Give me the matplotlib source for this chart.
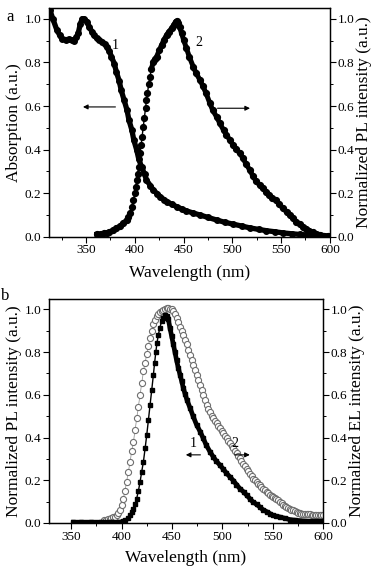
import matplotlib
matplotlib.use("Agg")
import matplotlib.pyplot as plt
from matplotlib.ticker import MultipleLocator, FormatStrFormatter

plt.rcParams['font.family'] = ['Liberation Serif', 'DejaVu Serif']

# ---- panel a: absorption (1) and PL (2) ----
abs_wl = [313, 316, 320, 323, 325, 329, 333, 336, 338, 340, 342, 344, 346, 348, 351, 353, 356, 358, 361, 363, 366,
          369, 371, 374, 376, 379, 381, 384, 386, 389, 392, 394, 397, 399, 402, 404, 407, 410, 412, 416, 419, 423,
          426, 430, 433, 438, 443, 448, 453, 460, 467, 475, 484, 492, 501, 510, 518, 527, 535, 544, 552, 561, 569,
          578, 586, 593, 598]
abs_val = [1.04, 1.00, 0.95, 0.925, 0.91, 0.905, 0.906, 0.903, 0.90, 0.915, 0.934, 0.975, 1.0, 1.0, 0.988, 0.965,
           0.942, 0.925, 0.911, 0.905, 0.896, 0.885, 0.873, 0.852, 0.827, 0.795, 0.758, 0.716, 0.674, 0.628, 0.582,
           0.536, 0.49, 0.444, 0.398, 0.358, 0.32, 0.288, 0.26, 0.235, 0.214, 0.198, 0.184, 0.171, 0.161, 0.149,
           0.138, 0.128, 0.119, 0.109, 0.10, 0.089, 0.077, 0.067, 0.058, 0.049, 0.041, 0.034, 0.028, 0.023, 0.018,
           0.014, 0.011, 0.008, 0.005, 0.003, 0.002]

pl_wl = [361, 365, 368, 371, 374, 378, 381, 385, 388, 391.7, 393.5, 395, 396.7, 398.5, 400, 401, 402, 403, 404,
         405.3, 406.5, 407.5, 408.7, 409.8, 411, 412, 413, 414.3, 415.6, 417, 419, 420.7, 422.4, 425, 427.5, 430,
         432.6, 435, 437.8, 440, 441.9, 443, 444.6, 446, 448, 450, 453, 456, 460, 463, 466.8, 470, 473, 477, 480,
         484, 487.3, 491, 494, 497.5, 501, 504, 507.8, 511, 514, 518, 521, 524, 528, 531, 535, 538, 541, 545, 548,
         552, 555.6, 559, 562, 565.8, 569, 572, 576, 579, 583, 586, 590, 594, 598]
pl_val = [0.012, 0.014, 0.016, 0.018, 0.023, 0.03, 0.039, 0.05, 0.062, 0.077, 0.09, 0.107, 0.135, 0.168, 0.2, 0.228,
          0.26, 0.29, 0.32, 0.383, 0.42, 0.46, 0.505, 0.545, 0.59, 0.628, 0.66, 0.70, 0.735, 0.77, 0.804, 0.815, 0.827,
          0.855, 0.88, 0.905, 0.926, 0.942, 0.957, 0.973, 0.988, 0.99, 0.98, 0.962, 0.934, 0.905, 0.865, 0.825, 0.78,
          0.75, 0.72, 0.69, 0.66, 0.613, 0.58, 0.55, 0.52, 0.49, 0.468, 0.444, 0.42, 0.402, 0.383, 0.36, 0.335, 0.306,
          0.28, 0.258, 0.237, 0.222, 0.207, 0.19, 0.178, 0.168, 0.15, 0.13, 0.115, 0.1, 0.085, 0.069, 0.057, 0.047,
          0.038, 0.028, 0.02, 0.015, 0.01, 0.006, 0.003]

# ---- panel b: PL (1, filled squares) and EL (2, open circles) ----
pl2_wl = [352, 360, 370, 380, 390, 398.5, 401, 403.5, 406, 408.5, 410, 411.8, 413.5, 415, 416.7, 418.4, 420,
          421.7, 423.4, 425, 426.6, 428.3, 430, 431.6, 432.8, 434, 435.2, 436.5, 438, 439.8, 441.4, 443, 444.8,
          446.4, 448, 449.7, 451.4, 453, 454.6, 456.3, 458, 459.6, 461.3, 463, 465, 468, 471, 474.5, 478, 481, 484,
          487.7, 491, 494, 497.6, 501, 504, 507.5, 511, 514, 517.4, 521, 524, 527.3, 530, 534, 537.2, 540, 544,
          547.2, 550, 553, 557, 562, 567, 572, 577, 582, 587, 593, 600]
pl2_val = [0.005, 0.005, 0.005, 0.005, 0.005, 0.005, 0.008, 0.012, 0.022, 0.036, 0.05, 0.067, 0.09, 0.114, 0.15,
           0.193, 0.24, 0.287, 0.35, 0.412, 0.48, 0.553, 0.625, 0.694, 0.75, 0.80, 0.845, 0.88, 0.915, 0.945, 0.962,
           0.976, 0.97, 0.955, 0.914, 0.875, 0.836, 0.80, 0.762, 0.726, 0.695, 0.665, 0.632, 0.605, 0.575, 0.538,
           0.50, 0.459, 0.428, 0.397, 0.365, 0.334, 0.31, 0.29, 0.271, 0.252, 0.234, 0.216, 0.198, 0.18, 0.161,
           0.146, 0.131, 0.114, 0.1, 0.087, 0.075, 0.063, 0.053, 0.044, 0.036, 0.032, 0.028, 0.022, 0.016, 0.013,
           0.011, 0.009, 0.008, 0.008, 0.008]

el_wl = [383, 385, 387, 388.6, 390, 392, 393.5, 395, 396.7, 398.5, 400, 401.8, 403.4, 405, 406.7, 408.5, 410,
         411.8, 413.4, 415, 416.7, 418.4, 420, 421.7, 423.4, 425, 426.6, 428.3, 430, 431.6, 433.3, 434.9, 436.5,
         438.1, 439.8, 441.4, 443, 444.8, 446.4, 448, 449.7, 451.3, 453, 454.7, 456.3, 458, 459.6, 461.3, 463,
         464.6, 466.3, 468, 469.6, 471.2, 472.9, 474.5, 476.2, 477.8, 479.4, 481, 482.7, 484.4, 486, 487.7, 489.3,
         491, 492.6, 494.3, 496, 497.6, 499.3, 501, 502.6, 504.2, 505.9, 507.5, 509.2, 510.8, 512.5, 514.1, 515.8,
         517.4, 519, 520.7, 522.4, 524, 525.6, 527.3, 529, 530.6, 532.3, 534, 535.6, 537.2, 538.8, 540.5, 542.2,
         543.9, 545.5, 547.2, 548.8, 550.5, 552.1, 553.7, 555.4, 557, 558.7, 560.3, 562, 563.6, 565.3, 567, 568.6,
         570.3, 571.9, 573.6, 575.2, 576.9, 578.5, 580.2, 581.8, 583.5, 585.2, 586.8, 588.5, 590.1, 591.8, 593.4,
         595, 596.7, 598.3, 600]
el_val = [0.012, 0.015, 0.018, 0.02, 0.022, 0.026, 0.03, 0.036, 0.045, 0.06, 0.085, 0.114, 0.15, 0.193, 0.24,
          0.287, 0.335, 0.38, 0.435, 0.49, 0.545, 0.60, 0.655, 0.71, 0.75, 0.79, 0.83, 0.867, 0.9, 0.93, 0.952,
          0.969, 0.98, 0.987, 0.992, 0.998, 1.003, 1.008, 1.006, 1.004, 1.0, 0.992, 0.98, 0.96, 0.942, 0.92, 0.898,
          0.878, 0.857, 0.836, 0.812, 0.788, 0.765, 0.741, 0.718, 0.695, 0.671, 0.647, 0.624, 0.6, 0.576, 0.553,
          0.535, 0.518, 0.503, 0.49, 0.478, 0.466, 0.455, 0.444, 0.432, 0.42, 0.409, 0.397, 0.385, 0.373, 0.362,
          0.35, 0.338, 0.326, 0.314, 0.302, 0.29, 0.278, 0.267, 0.255, 0.243, 0.231, 0.22, 0.208, 0.2, 0.192, 0.184,
          0.177, 0.169, 0.161, 0.153, 0.146, 0.139, 0.132, 0.126, 0.12, 0.117, 0.114, 0.106, 0.098, 0.092, 0.086,
          0.08, 0.075, 0.07, 0.065, 0.062, 0.06, 0.056, 0.052, 0.048, 0.046, 0.044, 0.043, 0.042, 0.041, 0.04, 0.04,
          0.039, 0.039, 0.039, 0.039, 0.039, 0.039, 0.039, 0.039]

fig = plt.figure(figsize=(3.71, 5.72), dpi=100)

def style(ax, twin, xlim, xticks):
    for a in (ax, twin):
        a.set_ylim(0, 1.05)
        a.yaxis.set_major_locator(MultipleLocator(0.2))
        a.yaxis.set_minor_locator(MultipleLocator(0.1))
        a.yaxis.set_major_formatter(FormatStrFormatter('%.1f'))
        a.tick_params(which='major', direction='out', length=4, width=0.8, labelsize=9.5, pad=1.5)
        a.tick_params(which='minor', direction='out', length=2.5, width=0.7)
        for s in a.spines.values():
            s.set_linewidth(0.9)
    ax.set_xlim(*xlim)
    ax.set_xticks(xticks)
    ax.xaxis.set_minor_locator(MultipleLocator(25))

LBL = 12.5

# panel a
axa = fig.add_axes([0.132, 0.586, 0.757, 0.400])
axa2 = axa.twinx()
style(axa, axa2, (312, 600), [350, 400, 450, 500, 550, 600])
axa.plot(abs_wl, abs_val, color='black', lw=3.8, marker='o', ms=4.0, zorder=3)
axa2.plot(pl_wl, pl_val, color='black', lw=1.0, marker='o', ms=4.2, zorder=3)
axa2.plot(pl_wl[29:], pl_val[29:], color='black', lw=3.6, zorder=3)
axa2.plot(pl_wl[:10], pl_val[:10], color='black', lw=3.6, zorder=3)
axa.set_xlabel('Wavelength (nm)', fontsize=LBL, labelpad=6)
axa.set_ylabel('Absorption (a.u.)', fontsize=LBL, labelpad=2)
axa2.set_ylabel('Normalized PL intensity (a.u.)', fontsize=LBL, labelpad=1)
axa.text(379.6, 0.88, '1', fontsize=10, ha='center', va='center')
axa.text(465.7, 0.89, '2', fontsize=10, ha='center', va='center')
axa.annotate('', xy=(344, 0.596), xytext=(383, 0.596),
             arrowprops=dict(arrowstyle='-|>', color='black', lw=0.8, mutation_scale=7))
axa.annotate('', xy=(521, 0.59), xytext=(482, 0.59),
             arrowprops=dict(arrowstyle='-|>', color='black', lw=0.8, mutation_scale=7))
fig.text(0.027, 0.970, 'a', fontsize=12, ha='center', va='center')

# panel b
axb = fig.add_axes([0.132, 0.0857, 0.739, 0.392])
axb2 = axb.twinx()
style(axb, axb2, (328, 600), [350, 400, 450, 500, 550, 600])
axb2.plot(el_wl, el_val, color='#999999', lw=0.6, marker='o', ms=4.4, mfc='white', mec='#6e6e6e', mew=0.8, zorder=2)
axb.plot(pl2_wl, pl2_val, color='black', lw=1.0, marker='s', ms=3.3, zorder=3)
axb.plot(pl2_wl[33:], pl2_val[33:], color='black', lw=3.4, zorder=3)
axb.plot(pl2_wl[:7], pl2_val[:7], color='black', lw=3.0, zorder=3)
axb.set_zorder(axb2.get_zorder() + 1)
axb.patch.set_visible(False)
axb.set_xlabel('Wavelength (nm)', fontsize=LBL, labelpad=5)
axb.set_ylabel('Normalized PL intensity (a.u.)', fontsize=LBL, labelpad=2)
axb2.set_ylabel('Normalized EL intensity (a.u.)', fontsize=LBL, labelpad=1)
axb.text(470.9, 0.37, '1', fontsize=10, ha='center', va='center')
axb.text(512.5, 0.37, '2', fontsize=10, ha='center', va='center')
axb.annotate('', xy=(461, 0.319), xytext=(481, 0.319),
             arrowprops=dict(arrowstyle='-|>', color='black', lw=0.8, mutation_scale=7))
axb.annotate('', xy=(530, 0.319), xytext=(509.5, 0.319),
             arrowprops=dict(arrowstyle='-|>', color='black', lw=0.8, mutation_scale=7))
fig.text(0.014, 0.482, 'b', fontsize=12, ha='center', va='center')

fig.savefig('out.png', dpi=100)
